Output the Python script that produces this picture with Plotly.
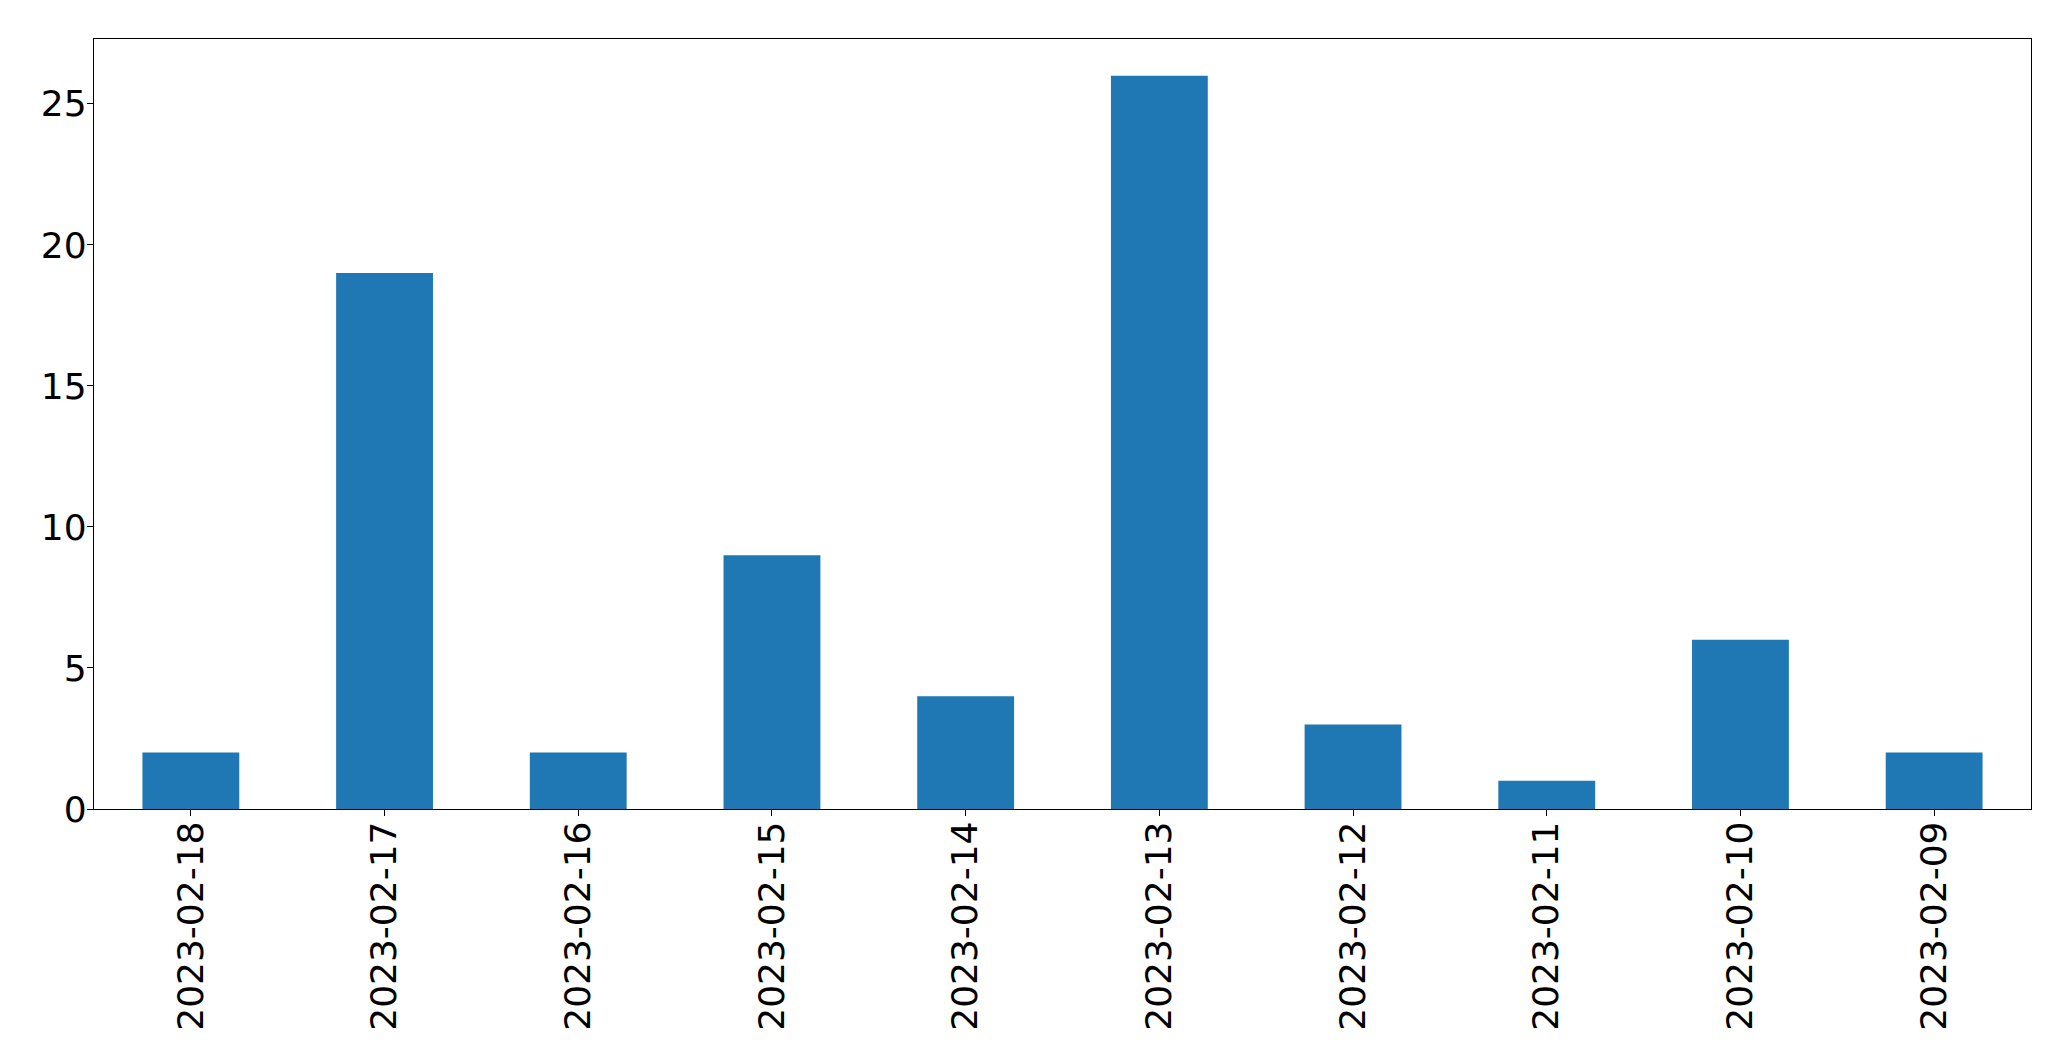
import plotly.graph_objects as go

dates = ["2023-02-18", "2023-02-17", "2023-02-16", "2023-02-15", "2023-02-14",
         "2023-02-13", "2023-02-12", "2023-02-11", "2023-02-10", "2023-02-09"]
counts = [2, 19, 2, 9, 4, 26, 3, 1, 6, 2]

fig = go.Figure(go.Bar(x=dates, y=counts, width=0.5, marker=dict(color="#1f77b4", line=dict(width=0))))

font = dict(family="DejaVu Sans", size=36, color="black")
fig.update_layout(
    width=2071, height=1061,
    margin=dict(l=86, r=48, t=31, b=260),
    plot_bgcolor="white", paper_bgcolor="white",
    font=font, showlegend=False,
)
fig.update_xaxes(type="category", range=[-0.5, len(dates) - 0.5], tickangle=-90,
                 showline=True, linecolor="black", linewidth=1.3, mirror=True,
                 ticks="outside", ticklen=6, tickwidth=1.3, tickcolor="black",
                 showgrid=False, tickfont=font, ticklabelstandoff=-9)
fig.update_yaxes(range=[0, 27.3], tickvals=[0, 5, 10, 15, 20, 25],
                 showline=True, linecolor="black", linewidth=1.3, mirror=True,
                 ticks="outside", ticklen=6, tickwidth=1.3, tickcolor="black",
                 showgrid=False, zeroline=False, tickfont=font, ticklabelstandoff=-7)

fig.write_html("out.html")
